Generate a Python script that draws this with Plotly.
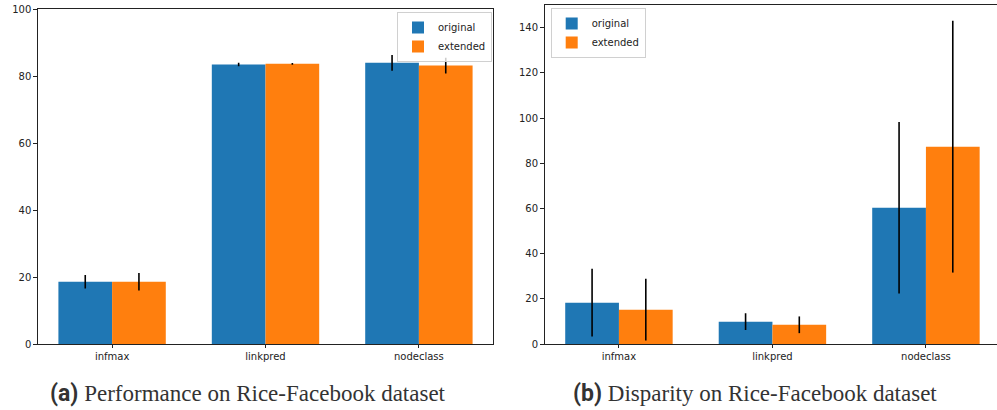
import plotly.graph_objects as go

categories = ["infmax", "linkpred", "nodeclass"]
series_names = ["original", "extended"]

perf_original = [18.6, 83.5, 84.0]
perf_original_err = [2.05, 0.55, 2.35]
perf_extended = [18.6, 83.7, 83.2]
perf_extended_err = [2.65, 0.25, 2.35]

disp_original = [18.3, 9.9, 60.3]
disp_original_err = [15.0, 3.7, 37.9]
disp_extended = [15.2, 8.5, 87.3]
disp_extended_err = [13.7, 3.7, 55.7]

perf_yticks = [0, 20, 40, 60, 80, 100]
disp_yticks = [0, 20, 40, 60, 80, 100, 120, 140]

captions = ["Performance on Rice-Facebook dataset", "Disparity on Rice-Facebook dataset"]
caption_tags = ["(a)", "(b)"]

BLUE = "#1f77b4"
ORANGE = "#ff7f0e"
W, H = 997, 410
xpos = list(range(len(categories)))

fig = go.Figure()

def add_bars(vals, errs, color, name, offset, xa, ya, legend, showlegend=True):
    fig.add_trace(go.Bar(
        x=xpos, y=vals, name=name, width=0.35, offset=offset,
        marker=dict(color=color, line=dict(width=0)),
        error_y=dict(type="data", array=errs, visible=True, color="black", thickness=1.6, width=0),
        xaxis=xa, yaxis=ya, legend=legend, showlegend=showlegend,
    ))

add_bars(perf_original, perf_original_err, BLUE, series_names[0], -0.35, "x", "y", "legend")
add_bars(perf_extended, perf_extended_err, ORANGE, series_names[1], 0.0, "x", "y", "legend")
add_bars(disp_original, disp_original_err, BLUE, series_names[0], -0.35, "x2", "y2", "legend2")
add_bars(disp_extended, disp_extended_err, ORANGE, series_names[1], 0.0, "x2", "y2", "legend2")

axis_font = dict(family="DejaVu Sans", size=10, color="#222")
common_x = dict(tickmode="array", tickvals=xpos, ticktext=categories, ticks="outside",
                ticklen=3.5, tickwidth=0.8, tickcolor="#222", showgrid=False, zeroline=False,
                showline=True, linecolor="#222", linewidth=0.8, tickfont=axis_font, automargin=False)
common_y = dict(ticks="outside", ticklen=3.5, tickwidth=0.8, tickcolor="#222", showgrid=False,
                zeroline=False, showline=True, linecolor="#222", linewidth=0.8, tickfont=axis_font,
                automargin=False)

y_bottom = 1 - 344 / H
legend_common = dict(xanchor="left", yanchor="top", bgcolor="rgba(255,255,255,0.8)",
                     bordercolor="#d0d0d0", borderwidth=1,
                     font=dict(family="DejaVu Sans", size=10, color="#222"),
                     itemwidth=30, tracegroupgap=0)
fig.update_layout(
    template="none",
    width=W, height=H, margin=dict(l=0, r=0, t=0, b=0, pad=0),
    plot_bgcolor="white", paper_bgcolor="white",
    barmode="overlay",
    xaxis=dict(domain=[37.7 / W, 493.3 / W], range=[-0.485, 2.485], mirror=True, anchor="y", **common_x),
    yaxis=dict(domain=[y_bottom, 1 - 9.3 / H], range=[0, 100], tickvals=perf_yticks, mirror=True,
               anchor="x", **common_y),
    xaxis2=dict(domain=[544.5 / W, 1.0], range=[-0.485, 2.463], mirror=True, anchor="y2", **common_x),
    yaxis2=dict(domain=[y_bottom, 1 - 5 / H], range=[0, 150], tickvals=disp_yticks, anchor="x2",
                **common_y),
    legend=dict(x=397 / W, y=1 - 12 / H, **legend_common),
    legend2=dict(x=550.7 / W, y=1 - 8 / H, **legend_common),
    showlegend=True,
)

cap_x = [247.5 / W, 754.5 / W]
for tag, cap, cx in zip(caption_tags, captions, cap_x):
    fig.add_annotation(
        x=cx, y=1 - 393 / H, xref="paper", yref="paper", xanchor="center", yanchor="middle",
        showarrow=False,
        text=f"<span style='font-family:Liberation Sans Narrow, Roboto; font-weight:bold'>{tag}</span> {cap}",
        font=dict(family="Liberation Serif", size=23, color="#333"),
    )

fig.write_html("out.html", config={"displayModeBar": False},
               post_script="document.body.style.margin='0';")
